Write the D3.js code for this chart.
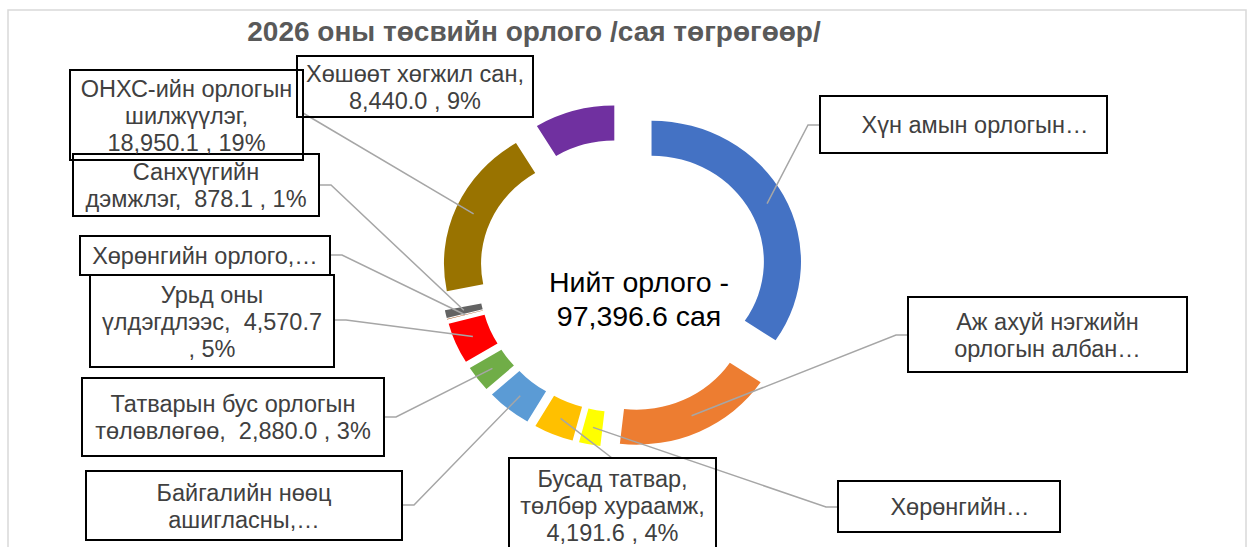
<!doctype html>
<html>
<head>
<meta charset="utf-8">
<style>
    body {
        margin: 0;
        background: #fff;
        font-family: 'Liberation Sans', Arial, sans-serif;
    }
    .frame {
        fill: none;
        stroke: #d9d9d9;
        stroke-width: 1.5;
    }
    text.title {
        font-size: 28px;
        font-weight: 700;
        fill: #595959;
    }
    text.total {
        font-size: 28.5px;
        fill: #000;
    }
    text.label {
        font-size: 23.5px;
        fill: #404040;
        white-space: pre;
    }
    rect.box {
        fill: none;
        stroke: #000;
        stroke-width: 2;
    }
    path.leader {
        fill: none;
        stroke: #a6a6a6;
        stroke-width: 1.5;
    }
</style>
<script src="https://cdn.jsdelivr.net/npm/d3@7"></script>
</head>
<body>
<svg width="1251" height="547"></svg>
<script>
    const title = '2026 оны төсвийн орлого /сая төгрөгөөр/'
    const totalLines = ['Нийт орлого -', '97,396.6 сая']

    // slices, clockwise from 12 o'clock
    const categories = [
        'Хүн амын орлогын албан татвар',
        'Аж ахуй нэгжийн орлогын албан татвар',
        'Хөрөнгийн албан татвар',
        'Бусад татвар, төлбөр хураамж',
        'Байгалийн нөөц ашигласны төлбөр',
        'Татварын бус орлогын төлөвлөгөө',
        'Урьд оны үлдэгдлээс',
        'Хөрөнгийн орлого',
        'Санхүүгийн дэмжлэг',
        'ОНХС-ийн орлогын шилжүүлэг',
        'Хөшөөт хөгжил сан'
    ]
    const values = [33520.0, 16916.0, 2250.0, 4191.6, 4750.1, 2880.0, 4570.7, 50.0, 878.1, 18950.1, 8440.0]
    const colors = ['#4472c4', '#ed7d31', '#ffff00', '#ffc000', '#5b9bd5', '#70ad47', '#ff0000', '#9e480e', '#636363', '#997300', '#7030a0']

    // data label text as shown in the chart
    const labelLines = [
        ['Хүн амын орлогын…'],
        ['Аж ахуй нэгжийн', 'орлогын албан…'],
        ['Хөрөнгийн…'],
        ['Бусад татвар,', 'төлбөр хураамж,', '4,191.6 , 4%'],
        ['Байгалийн нөөц', 'ашигласны,…'],
        ['Татварын бус орлогын', 'төлөвлөгөө,  2,880.0 , 3%'],
        ['Урьд оны', 'үлдэгдлээс,  4,570.7', ', 5%'],
        ['Хөрөнгийн орлого,…'],
        ['Санхүүгийн', 'дэмжлэг,  878.1 , 1%'],
        ['ОНХС-ийн орлогын', 'шилжүүлэг,', '18,950.1 , 19%'],
        ['Хөшөөт хөгжил сан,', '8,440.0 , 9%']
    ]

    // hand placed label boxes (like the dragged labels in the original)
    const boxes = [
        {x: 820, y: 96, w: 287, h: 57, side: 'left', a: 125, tx: 975},
        {x: 908, y: 297, w: 279, h: 75, side: 'left', a: 335},
        {x: 838, y: 481, w: 222, h: 51, side: 'left', a: 507, tx: 960},
        {x: 509, y: 458, w: 207, h: 95, side: 'top', a: 612},
        {x: 86, y: 471, w: 316, h: 69, side: 'right', a: 505},
        {x: 82, y: 378, w: 302, h: 78, side: 'right', a: 417},
        {x: 90, y: 275, w: 244, h: 92, side: 'right', a: 320},
        {x: 80, y: 236, w: 250, h: 39, side: 'right', a: 255},
        {x: 73, y: 154, w: 246, h: 62, side: 'right', a: 185},
        {x: 70, y: 70, w: 233, h: 90, side: 'right', a: 113, direct: true},
        {x: 297, y: 56, w: 236, h: 61, side: 'none'}
    ]

    const svg = d3.select('svg')

    const cx = 623, cy = 276
    const outerR = 141, innerR = 106
    const explode = 30.5
    const stretch = 1.06
    const lineH = 27

    svg.append('rect')
        .attr('class', 'frame')
        .attr('x', 8).attr('y', 10)
        .attr('width', 1238).attr('height', 570)

    svg.append('text')
        .attr('class', 'title')
        .attr('x', 534)
        .attr('y', 41)
        .attr('text-anchor', 'middle')
        .text(title)

    const pie = d3.pie().sort(null).value(d => d)
    const slices = pie(values)

    const arc = d3.arc().innerRadius(innerR).outerRadius(outerR)

    const shift = s => {
        const m = (s.startAngle + s.endAngle) / 2
        return [explode * Math.sin(m), -explode * Math.cos(m)]
    }

    const ring = svg.append('g')
        .attr('transform', `translate(${cx}, ${cy}) scale(${stretch}, 1)`)

    ring.selectAll('path')
        .data(slices)
        .enter()
        .append('path')
        .attr('transform', s => `translate(${shift(s)})`)
        .attr('d', arc)
        .attr('fill', (s, i) => colors[i])

    // leader lines: segment centre -> elbow -> box edge
    const anchorOf = s => {
        const c = arc.centroid(s)
        const o = shift(s)
        return [cx + stretch * (c[0] + o[0]), cy + c[1] + o[1]]
    }

    slices.forEach((s, i) => {
        const b = boxes[i]
        if (b.side === 'none') return
        const p = anchorOf(s)
        let pts
        if (b.side === 'left') {
            pts = [p, [b.x - 12, b.a], [b.x, b.a]]
        } else if (b.side === 'right') {
            pts = b.direct ? [p, [b.x + b.w, b.a]] : [p, [b.x + b.w + 12, b.a], [b.x + b.w, b.a]]
        } else {
            pts = [p, [b.a, b.y]]
        }
        svg.append('path')
            .attr('class', 'leader')
            .attr('d', d3.line()(pts))
    })

    const labels = svg.selectAll('g.lab')
        .data(boxes)
        .enter()
        .append('g')
        .attr('class', 'lab')

    labels.append('rect')
        .attr('class', 'box')
        .attr('x', b => b.x)
        .attr('y', b => b.y)
        .attr('width', b => b.w)
        .attr('height', b => b.h)

    labels.each(function (b, i) {
        const lines = labelLines[i]
        const t = d3.select(this).append('text')
            .attr('class', 'label')
            .attr('text-anchor', 'middle')
        const top = b.y + b.h / 2 - (lines.length - 1) * lineH / 2 + 8.5
        lines.forEach((l, k) => {
            t.append('tspan')
                .attr('x', b.tx || b.x + b.w / 2)
                .attr('y', top + k * lineH)
                .text(l)
        })
    })

    const tot = svg.append('text')
        .attr('class', 'total')
        .attr('text-anchor', 'middle')
    totalLines.forEach((l, k) => {
        tot.append('tspan')
            .attr('x', 639)
            .attr('y', 292 + k * 34)
            .text(l)
    })
</script>
</body>
</html>
